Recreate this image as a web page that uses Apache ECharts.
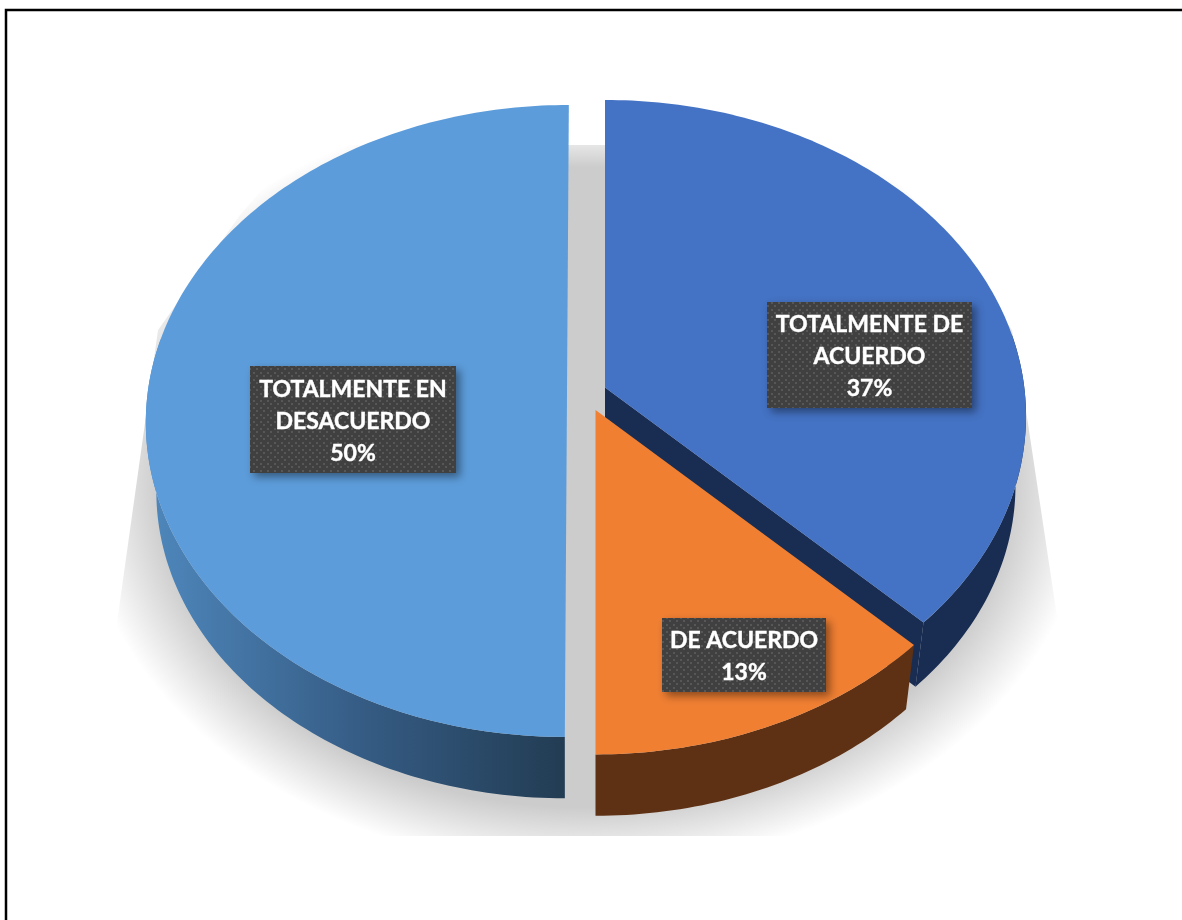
<!DOCTYPE html>
<html>
<head>
<meta charset="utf-8">
<style>
  html, body { margin: 0; padding: 0; background: #fff; }
  #chart { width: 1182px; height: 920px; }
</style>
<script src="https://cdn.jsdelivr.net/npm/echarts@6/dist/echarts.min.js"></script>
</head>
<body>
<div id="chart"></div>
<script>
// data (labels round them to 37 / 13 / 50)
const categories = ['TOTALMENTE DE\nACUERDO', 'DE ACUERDO', 'TOTALMENTE EN\nDESACUERDO']
const values = [37.4, 12.6, 50]

// look of each slice, same order as the data
const topColors = ['#4472c4', '#f07f32', '#5c9cda']
const wallColors = ['#192d52', '#5f3114', null]
const apexes = [[605, 387.5], [595.5, 410], [567, 392.5]]
const tilts = [0, 0, 2]
const labelBoxes = [[767, 302, 205, 106], [662, 618, 164, 74], [250, 366, 206, 107]]

// perspective of the disc
const RX = 419.3
const RY = 313.4
const PERSP = 0.09
const WALL_DROP = 70
const WALL_SCALE = 0.975

const total = values.reduce((a, b) => a + b, 0)
const startOf = (i) => values.slice(0, i).reduce((a, b) => a + b, 0)

// deg is clockwise from the top of the disc
const rimPoint = (i, deg, lower) => {
  const t = deg * Math.PI / 180
  const u = Math.sin(t)
  const v = Math.cos(t)
  const w = 1 + PERSP * v
  const s = lower ? WALL_SCALE : 1
  return [
    apexes[i][0] + s * (RX * u + tilts[i] * v) / w,
    apexes[i][1] + (lower ? WALL_DROP : 0) - s * RY * v / w
  ]
}

const arcPoints = (i, from, to, lower) => {
  const pts = []
  const steps = Math.ceil(Math.abs(to - from))
  for (let k = 0; k <= steps; k++) {
    pts.push(rimPoint(i, from + (to - from) * k / steps, lower))
  }
  return pts
}

const sliceAngles = (i, value) => {
  const from = startOf(i) / total * 360
  return [from, from + value / total * 360]
}

const labelPattern = () => {
  const c = document.createElement('canvas')
  c.width = 7
  c.height = 7
  const ctx = c.getContext('2d')
  ctx.fillStyle = '#404040'
  ctx.fillRect(0, 0, 7, 7)
  ctx.fillStyle = '#575757'
  ctx.fillRect(1, 1, 2, 2)
  ctx.fillRect(4, 4, 2, 2)
  return c
}
const patternCanvas = labelPattern()

const renderShadow = () => ({
  type: 'group',
  clipPath: {
    type: 'polygon',
    shape: {
      points: [[300, 145], [860, 145], [930, 215], [1012, 330], [1027, 417], [1090, 836], [87, 836], [145, 423], [158, 330], [240, 215]]
    }
  },
  children: [
    {
      type: 'circle',
      x: 585,
      y: 484,
      scaleX: 5.05,
      scaleY: 3.85,
      shape: { cx: 0, cy: 0, r: 100 },
      style: {
        fill: new echarts.graphic.RadialGradient(0.5, 0.5, 0.5, [
          { offset: 0, color: '#cccccc' },
          { offset: 0.84, color: '#cccccc' },
          { offset: 0.92, color: 'rgba(204,204,204,0.5)' },
          { offset: 1, color: 'rgba(204,204,204,0)' }
        ])
      }
    },
    {
      // gap between the slices: the grey starts soft at the top
      type: 'rect',
      shape: { x: 560, y: 117, width: 60, height: 50 },
      style: {
        fill: new echarts.graphic.LinearGradient(0, 0, 0, 1, [
          { offset: 0.56, color: '#e6e6e6' },
          { offset: 1, color: '#cccccc' }
        ])
      }
    }
  ]
})

const renderWall = (params, api) => {
  const i = params.dataIndex
  const [from, to] = sliceAngles(i, api.value(0))
  const fill = wallColors[i] || new echarts.graphic.LinearGradient(0, 0, 1, 0, [
    { offset: 0, color: '#4f88bd' },
    { offset: 0.5, color: '#365d86' },
    { offset: 1, color: '#223c53' }
  ])
  // only the front part of the rim has a visible wall
  const a0 = Math.max(from, 80)
  const a1 = Math.min(to, 280)
  const outer = arcPoints(i, a0, a1, false).concat(arcPoints(i, a1, a0, true))
  const children = [{ type: 'polygon', shape: { points: outer }, style: { fill } }]
  if (i === 0) {
    // the cut face of the first slice shows beside the orange one
    const a = apexes[i]
    children.push({
      type: 'polygon',
      shape: { points: [a, rimPoint(i, to, false), rimPoint(i, to, true), [a[0], a[1] + WALL_DROP]] },
      style: { fill }
    })
  }
  return { type: 'group', children }
}

const renderTop = (params, api) => {
  const i = params.dataIndex
  const [from, to] = sliceAngles(i, api.value(0))
  return {
    type: 'polygon',
    shape: { points: [apexes[i]].concat(arcPoints(i, from, to, false)) },
    style: { fill: topColors[i] }
  }
}

const renderLabel = (params, api) => {
  const i = params.dataIndex
  const value = api.value(0)
  const box = labelBoxes[i]
  return {
    type: 'group',
    children: [
      {
        type: 'rect',
        shape: { x: box[0], y: box[1], width: box[2], height: box[3] },
        style: {
          fill: { image: patternCanvas, repeat: 'repeat' },
          shadowBlur: 8,
          shadowOffsetX: 4,
          shadowOffsetY: 4,
          shadowColor: 'rgba(0,0,0,0.42)'
        }
      },
      {
        type: 'text',
        style: {
          text: categories[i] + '\n' + Math.round(value) + '%',
          x: box[0] + box[2] / 2,
          y: box[1] + box[3] / 2 + 2,
          align: 'center',
          verticalAlign: 'middle',
          fill: '#fff',
          fontFamily: 'Lato',
          fontWeight: 'bold',
          fontSize: 23,
          lineHeight: 32,
          stroke: '#fff',
          lineWidth: 0.4
        }
      }
    ]
  }
}

const chart = echarts.init(document.getElementById('chart'), null, { renderer: 'canvas' })
chart.setOption({
  animation: false,
  backgroundColor: '#fff',
  // frame runs off the right and bottom of the picture
  graphic: [{
    type: 'polyline',
    shape: { points: [[6, 920], [6, 10], [1182, 10]] },
    style: { stroke: '#000', lineWidth: 2.5, fill: null }
  }],
  series: [
    { type: 'custom', coordinateSystem: 'none', silent: true, data: [0], renderItem: renderShadow, z: 1 },
    { type: 'custom', coordinateSystem: 'none', silent: true, data: values, renderItem: renderWall, z: 2 },
    { type: 'custom', coordinateSystem: 'none', silent: true, data: values, renderItem: renderTop, z: 3 },
    { type: 'custom', coordinateSystem: 'none', silent: true, data: values, renderItem: renderLabel, z: 4 }
  ]
})
</script>
</body>
</html>
